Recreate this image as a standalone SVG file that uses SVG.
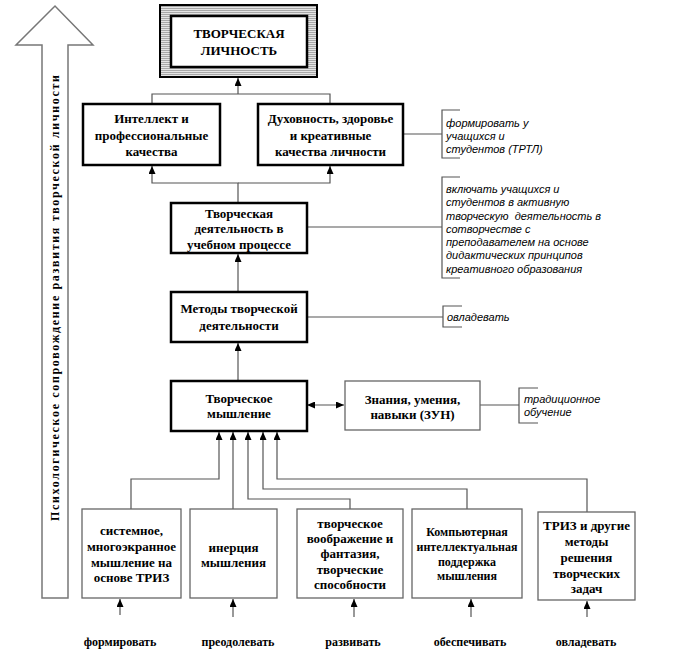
<svg xmlns="http://www.w3.org/2000/svg" width="673" height="660" viewBox="0 0 673 660">
<defs>
<marker id="ah" markerUnits="userSpaceOnUse" markerWidth="8" markerHeight="7" refX="8" refY="3.5" orient="auto-start-reverse" viewBox="0 0 8 7"><path d="M0,0 L8,3.5 L0,7 z" fill="#000"/></marker>
<pattern id="hatch" width="4" height="2" patternUnits="userSpaceOnUse"><rect width="4" height="2" fill="#e4e4e4"/><rect width="4" height="1" fill="#a8a8a8"/></pattern>
<style>
.main{fill:#fff;stroke:#000;stroke-width:2.5}
.thin{fill:#fff;stroke:#666;stroke-width:1.3}
.b{font-family:"Liberation Serif","Times New Roman",serif;font-weight:bold;font-size:13px;fill:#000;text-anchor:middle}
.s{font-size:12px}
.i{font-family:"Liberation Sans",Arial,sans-serif;font-style:italic;font-size:11px;fill:#000}
.c{fill:none;stroke:#555;stroke-width:1.2}
.a{marker-end:url(#ah)}
</style>
</defs>

<g id="side-arrow">
<polygon points="42,598 42,45 16,45 55,6 93,45 68,45 68,598" fill="#fff" stroke="#777" stroke-width="1.5"/>
<text class="b s" transform="translate(59,298) rotate(-90)" textLength="446" lengthAdjust="spacing">Психологическое сопровождение развития творческой личности</text>
</g>

<g id="connectors">
<path class="c" d="M152,104 V94 H330 V104"/>
<path class="c a" d="M238,94 V78"/>
<path class="c a" d="M238,203 V183 H152 V166"/>
<path class="c a" d="M238,183 H330 V166"/>
<path class="c a" d="M238,292 V254"/>
<path class="c a" d="M238,381 V343"/>
<path class="c a" d="M307,405 H344" marker-start="url(#ah)"/>
<path class="c a" d="M131,509 V479 H219 V432"/>
<path class="c a" d="M233,509 V432"/>
<path class="c a" d="M350,509 V499 H248 V432"/>
<path class="c a" d="M467,509 V489 H263 V432"/>
<path class="c a" d="M587,512 V479 H277 V432"/>
<path class="c a" d="M120,615 V599"/>
<path class="c a" d="M233,617 V599"/>
<path class="c a" d="M354,617 V599"/>
<path class="c a" d="M471,617 V599"/>
<path class="c a" d="M587,617 V601"/>
<path class="c" d="M403,134 H442"/>
<path class="c" d="M307,227 H442"/>
<path class="c" d="M307,317 H443"/>
<path class="c" d="M480,405 H519"/>
</g>

<g id="tl">
<rect x="160" y="5" width="157" height="72" fill="url(#hatch)" stroke="#000" stroke-width="2"/>
<rect x="171" y="16" width="136" height="51" class="main" stroke-width="3"/>
<text class="b" x="239" y="37.5">ТВОРЧЕСКАЯ</text>
<text class="b" x="239" y="54.5">ЛИЧНОСТЬ</text>
</g>

<g id="intellect">
<rect x="83" y="104" width="137" height="61" class="main"/>
<text class="b" x="151.5" y="122.5">Интеллект и</text>
<text class="b" x="151.5" y="139.5">профессиональные</text>
<text class="b" x="151.5" y="156">качества</text>
</g>

<g id="spirit">
<rect x="258" y="104" width="145" height="61" class="main"/>
<text class="b" x="330.5" y="122.5">Духовность, здоровье</text>
<text class="b" x="330.5" y="139.5">и креативные</text>
<text class="b" x="330.5" y="156">качества личности</text>
</g>

<g id="note1">
<path class="c" d="M460,110 H442 V158 H460"/>
<text class="i" x="446" y="127">формировать у</text>
<text class="i" x="446" y="140">учащихся и</text>
<text class="i" x="446" y="153">студентов (ТРТЛ)</text>
</g>

<g id="activity">
<rect x="171" y="203" width="136" height="50" class="main"/>
<text class="b" x="239" y="217.5">Творческая</text>
<text class="b" x="239" y="233">деятельность в</text>
<text class="b" x="239" y="248.5">учебном процессе</text>
</g>

<g id="note2">
<path class="c" d="M460,177 H442 V278 H460"/>
<text class="i" x="446" y="193">включать учащихся и</text>
<text class="i" x="446" y="206">студентов в активную</text>
<text class="i" x="446" y="219.5" xml:space="preserve">творческую  деятельность в</text>
<text class="i" x="446" y="232.5">сотворчестве с</text>
<text class="i" x="446" y="246">преподавателем на основе</text>
<text class="i" x="446" y="259">дидактических принципов</text>
<text class="i" x="446" y="272.5">креативного образования</text>
</g>

<g id="methods">
<rect x="171" y="292" width="136" height="50" class="main"/>
<text class="b" x="239" y="312.5">Методы творческой</text>
<text class="b" x="239" y="329.5">деятельности</text>
</g>

<g id="note3">
<path class="c" d="M462,306 H443 V327 H462"/>
<text class="i" x="447" y="321">овладевать</text>
</g>

<g id="thinking">
<rect x="171" y="381" width="136" height="50" class="main"/>
<text class="b" x="239" y="402.5">Творческое</text>
<text class="b" x="239" y="417.5">мышление</text>
</g>

<g id="zun">
<rect x="345" y="381" width="135" height="49" class="thin"/>
<text class="b" x="412.5" y="403.5">Знания, умения,</text>
<text class="b" x="412.5" y="418.5">навыки (ЗУН)</text>
</g>

<g id="note4">
<path class="c" d="M538,388 H519 V423 H538"/>
<text class="i" x="524" y="403">традиционное</text>
<text class="i" x="524" y="416">обучение</text>
</g>

<g id="systemic">
<rect x="82" y="509" width="99" height="89" class="thin"/>
<text class="b" x="131.5" y="534.5">системное,</text>
<text class="b" x="131.5" y="551">многоэкранное</text>
<text class="b" x="131.5" y="566.5">мышление на</text>
<text class="b" x="131.5" y="582">основе ТРИЗ</text>
</g>

<g id="inertia">
<rect x="190" y="509" width="87" height="89" class="thin"/>
<text class="b" x="233.5" y="551.5">инерция</text>
<text class="b" x="233.5" y="566.5">мышления</text>
</g>

<g id="imagination">
<rect x="297" y="509" width="106" height="89" class="thin"/>
<text class="b" x="350" y="527.5">творческое</text>
<text class="b" x="350" y="542.5">воображение и</text>
<text class="b" x="350" y="558">фантазия,</text>
<text class="b" x="350" y="573.5">творческие</text>
<text class="b" x="350" y="589">способности</text>
</g>

<g id="computer">
<rect x="412" y="509" width="110" height="89" class="thin"/>
<text class="b s" x="467" y="536">Компьютерная</text>
<text class="b s" x="467" y="551">интеллектуальная</text>
<text class="b s" x="467" y="565.5">поддержка</text>
<text class="b s" x="467" y="579.5">мышления</text>
</g>

<g id="triz">
<rect x="538" y="512" width="97" height="88" class="thin"/>
<text class="b" x="586.5" y="529.5">ТРИЗ и другие</text>
<text class="b" x="586.5" y="545.5">методы</text>
<text class="b" x="586.5" y="561.5">решения</text>
<text class="b" x="586.5" y="577.5">творческих</text>
<text class="b" x="586.5" y="593">задач</text>
</g>

<g id="labels">
<text class="b s" x="120" y="646">формировать</text>
<text class="b s" x="238" y="646">преодолевать</text>
<text class="b s" x="353" y="646">развивать</text>
<text class="b s" x="470" y="646">обеспечивать</text>
<text class="b s" x="586" y="646">овладевать</text>
</g>
</svg>
